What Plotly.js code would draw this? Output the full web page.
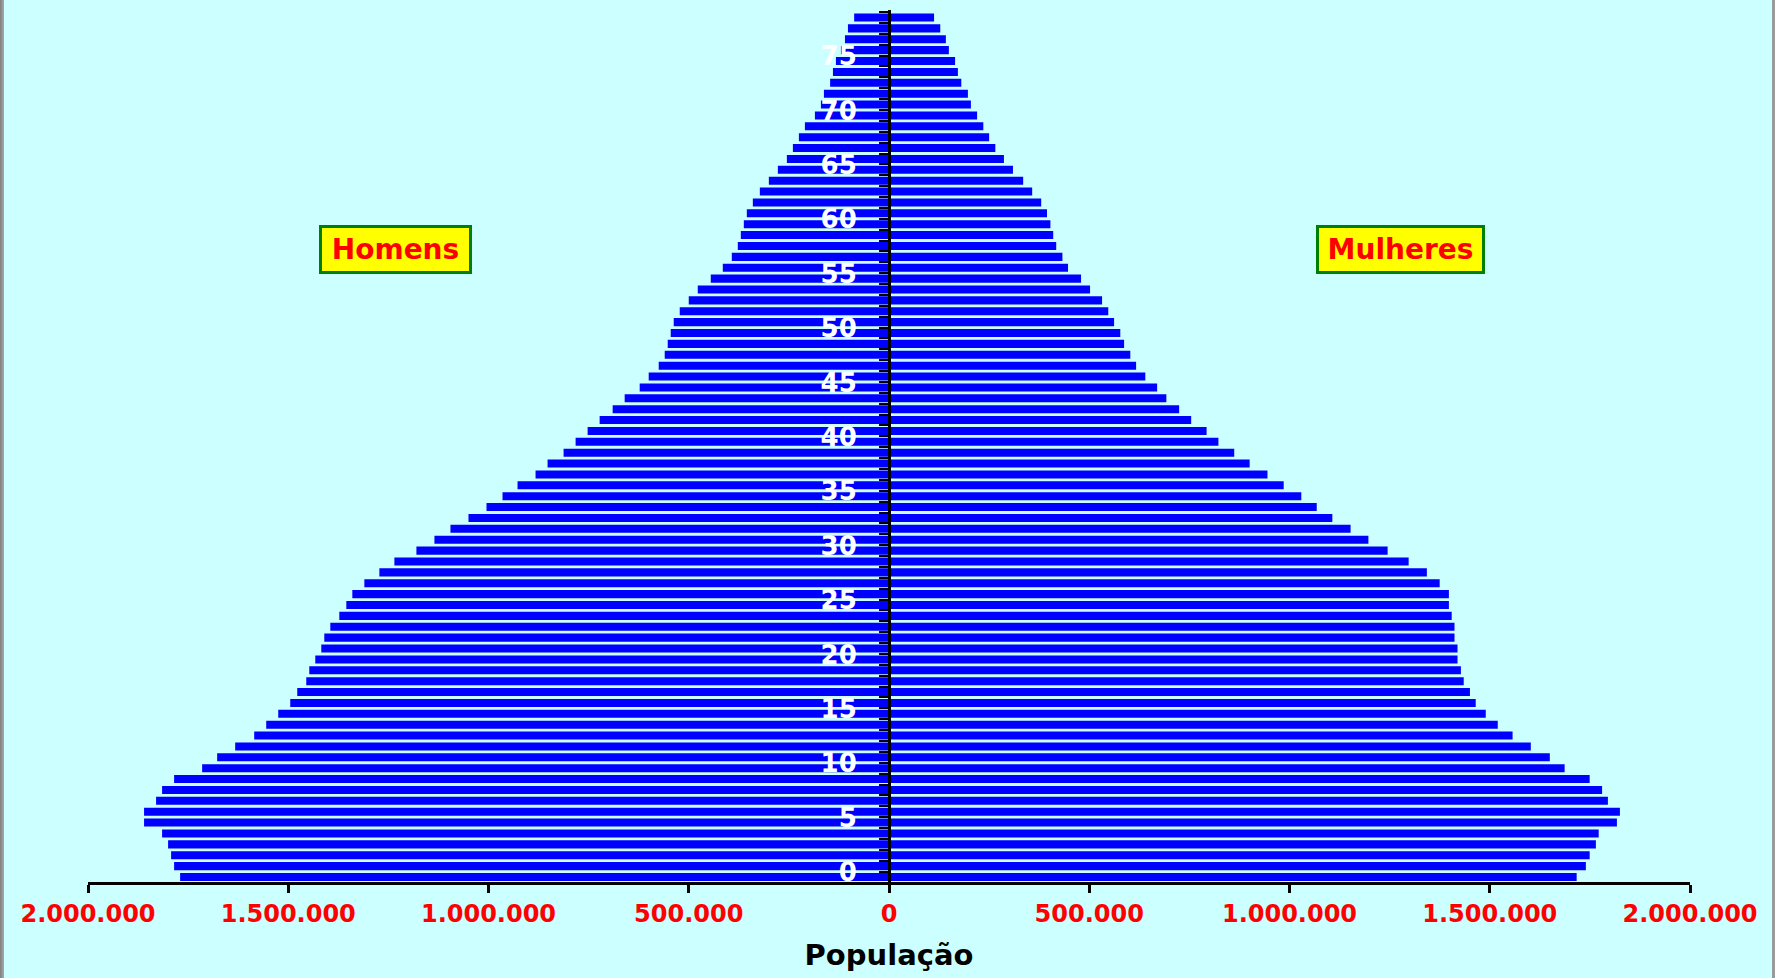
<!DOCTYPE html>
<html>
<head>
<meta charset="utf-8">
<script src="https://cdn.plot.ly/plotly-3.0.1.min.js"></script>
<style>
  html, body { margin: 0; padding: 0; background: #CCFFFF; overflow: hidden; }
  #wrap { position: relative; width: 1775px; height: 978px; }
  #chart { position: absolute; left: 0; top: 0; width: 1775px; height: 978px; }
  #edgeL { position: absolute; left: 0; top: 0; width: 4px; height: 978px; background: linear-gradient(to right, #808080, #a8a8a8); z-index: 5; }
  #edgeR { position: absolute; right: 0; top: 0; width: 3px; height: 978px; background: #9a9a9a; z-index: 5; }
</style>
</head>
<body>
<div id="wrap">
  <div id="chart"></div>
  <div id="edgeL"></div>
  <div id="edgeR"></div>
</div>
<script>
// Ages (one bar per single year of age)
const ages = [0,1,2,3,4,5,6,7,8,9,10,11,12,13,14,15,16,17,18,19,
  20,21,22,23,24,25,26,27,28,29,30,31,32,33,34,35,36,37,38,39,
  40,41,42,43,44,45,46,47,48,49,50,51,52,53,54,55,56,57,58,59,
  60,61,62,63,64,65,66,67,68,69,70,71,72,73,74,75,76,77,78,79];

// Men (Homens), ages 0..79
const homens = [1770000,1785000,1792500,1800000,1815000,1860000,1860000,1830000,1815000,1785000,
  1715000,1677500,1632500,1585000,1555000,1525000,1495000,1477500,1455000,1447500,
  1432500,1417500,1410000,1395000,1372500,1355000,1340000,1310000,1272500,1235000,
  1180000,1135000,1095000,1050000,1005000,965000,927500,882500,852500,812500,
  782500,752500,722500,690000,660000,622500,600000,575000,560000,552500,
  545000,537500,522500,500000,477500,445000,415000,392500,377500,370000,
  362500,355000,340000,322500,300000,277500,255000,240000,225000,210000,
  185000,170000,162500,147000,140000,132500,120000,110000,102500,87000];

// Women (Mulheres), ages 0..79
const mulheres = [1717000,1740000,1749500,1765000,1772000,1817500,1825000,1795000,1780500,1749500,
  1687000,1650000,1602500,1557000,1520000,1490000,1465000,1450500,1435000,1428000,
  1419500,1419500,1412000,1412000,1405000,1398000,1398000,1375000,1343000,1297500,
  1245000,1197000,1152500,1107000,1068000,1029500,985500,945000,900500,862000,
  822500,793000,754500,724500,692500,669500,640000,617000,602500,587000,
  577500,562000,547500,532000,502000,479500,447000,433000,417500,410000,
  403000,394500,380000,357500,335000,309500,287000,265500,250000,235500,
  220000,204500,197000,180500,172000,165000,149500,142000,128000,112500];

// X tick values and labels
const xTickVals = [-2000000,-1500000,-1000000,-500000,0,500000,1000000,1500000,2000000];
const xTickText = ["2.000.000","1.500.000","1.000.000","500.000","0","500.000","1.000.000","1.500.000","2.000.000"];

const FONT = 'DejaVu Sans';

const traces = [
  {
    type: 'bar', orientation: 'h', name: 'Homens',
    y: ages, x: homens.map(v => -v),
    marker: { color: '#0000FF', line: { width: 0 } },
    width: 0.74, hoverinfo: 'skip'
  },
  {
    type: 'bar', orientation: 'h', name: 'Mulheres',
    y: ages, x: mulheres,
    marker: { color: '#0000FF', line: { width: 0 } },
    width: 0.74, hoverinfo: 'skip'
  }
];

const layout = {
  width: 1775, height: 978,
  margin: { l: 88, r: 85, t: 10, b: 96, pad: 0 },
  paper_bgcolor: '#CCFFFF',
  plot_bgcolor: '#CCFFFF',
  showlegend: false,
  barmode: 'overlay',
  xaxis: {
    range: [-2000000, 2000000],
    tickmode: 'array', tickvals: xTickVals, ticktext: xTickText,
    ticks: 'outside', ticklen: 8, tickwidth: 3, tickcolor: '#000000',
    showline: true, linecolor: '#000000', linewidth: 3,
    showgrid: false, zeroline: false,
    tickfont: { family: FONT, size: 24, color: '#FF0000', weight: 'bold' },
    ticklabelstandoff: 0,
    title: { text: 'População', font: { family: FONT, size: 29, color: '#000000', weight: 'bold' }, standoff: 18 },
    fixedrange: true
  },
  yaxis: {
    range: [-0.46, 79.69],
    anchor: 'free', position: 0.5,
    showline: true, linecolor: '#000000', linewidth: 3,
    showgrid: false, zeroline: false,
    tickmode: 'linear', tick0: 0, dtick: 5,
    ticks: '', ticklabelstandoff: 26, ticklabelshift: -5,
    tickfont: { family: FONT, size: 26, color: '#FFFFFF', weight: 'bold' },
    minor: { tickmode: 'linear', tick0: 0.5, dtick: 1, ticks: 'outside', ticklen: 9, tickwidth: 2, tickcolor: '#000000', showgrid: false },
    layer: 'above traces',
    fixedrange: true
  },
  annotations: [
    {
      xref: 'paper', yref: 'paper', x: 0.192, y: 0.7248, xanchor: 'center', yanchor: 'middle',
      text: 'Homens', showarrow: false,
      font: { family: FONT, size: 28, color: '#FF0000', weight: 'bold' },
      bgcolor: '#FFFF00', bordercolor: '#008000', borderwidth: 3, borderpad: 0,
      width: 147, height: 43
    },
    {
      xref: 'paper', yref: 'paper', x: 0.8193, y: 0.7248, xanchor: 'center', yanchor: 'middle',
      text: 'Mulheres', showarrow: false,
      font: { family: FONT, size: 28, color: '#FF0000', weight: 'bold' },
      bgcolor: '#FFFF00', bordercolor: '#008000', borderwidth: 3, borderpad: 0,
      width: 163, height: 43
    }
  ]
};

Plotly.newPlot('chart', traces, layout, { displayModeBar: false, staticPlot: true });
</script>
</body>
</html>
